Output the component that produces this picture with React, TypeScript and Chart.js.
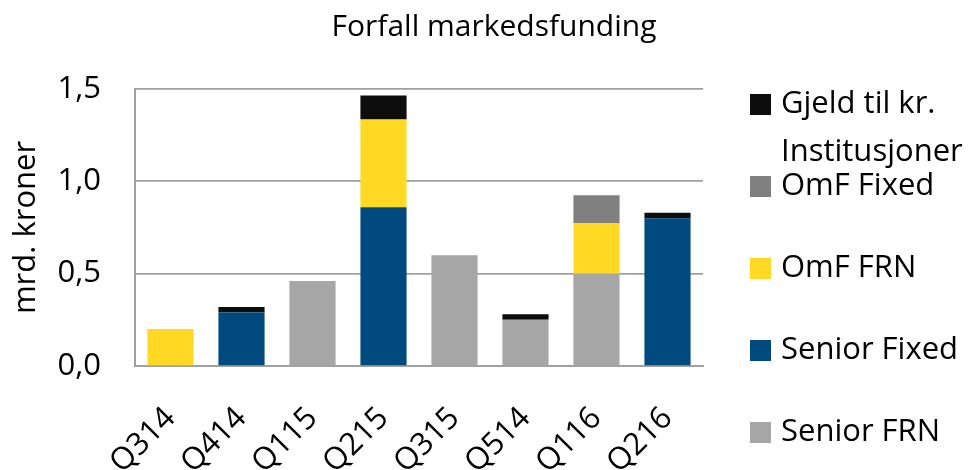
import React, { useEffect, useRef } from "react";
import { Chart, registerables } from "chart.js";

Chart.register(...registerables);

const categories = ["Q314", "Q414", "Q115", "Q215", "Q315", "Q514", "Q116", "Q216"];
const seniorFRN = [0, 0, 0.46, 0, 0.6, 0.25, 0.5, 0];
const seniorFixed = [0, 0.29, 0, 0.86, 0, 0, 0, 0.8];
const omfFRN = [0.2, 0, 0, 0.475, 0, 0, 0.275, 0];
const omfFixed = [0, 0, 0, 0, 0, 0, 0.15, 0];
const gjeld = [0, 0.03, 0, 0.13, 0, 0.03, 0, 0.03];
const yTicks = [0, 0.5, 1.0, 1.5];
const titleText = "Forfall markedsfunding";
const yTitle = "mrd. kroner";
const legendLabels: string[][] = [
  ["Gjeld til kr.", "Institusjoner"],
  ["OmF Fixed"],
  ["OmF FRN"],
  ["Senior Fixed"],
  ["Senior FRN"],
];

const FONT = "'Open Sans', 'Noto Sans', sans-serif";

const customPlugin = {
  id: "custom",
  afterDraw(chart: any) {
    const ctx = chart.ctx;
    const area = chart.chartArea;
    ctx.save();
    // title
    ctx.fillStyle = "#000";
    ctx.font = `30px ${FONT}`;
    ctx.textAlign = "center";
    ctx.textBaseline = "middle";
    ctx.fillText(titleText, 494, 27);
    // legend (reversed dataset order)
    const ds = chart.data.datasets.slice().reverse();
    const boxX = area.right + 47;
    let y = area.top + 15;
    ctx.font = `31px ${FONT}`;
    ctx.textAlign = "left";
    ds.forEach((d: any, i: number) => {
      ctx.fillStyle = d.backgroundColor;
      ctx.fillRect(boxX, y - 10, 21, 21);
      ctx.fillStyle = "#000";
      const lines = legendLabels[i];
      lines.forEach((ln, j) => {
        ctx.fillText(ln, boxX + 31, y + j * 48);
      });
      y += 82;
    });
    ctx.restore();
  },
};

export default function App() {
  const ref = useRef<HTMLCanvasElement>(null);
  useEffect(() => {
    document.body.style.margin = "0";
    const chart = new Chart(ref.current!, {
      type: "bar",
      data: {
        labels: categories,
        datasets: [
          { label: "Senior FRN", data: seniorFRN, backgroundColor: "#A6A6A6" },
          { label: "Senior Fixed", data: seniorFixed, backgroundColor: "#004A80" },
          { label: "OmF FRN", data: omfFRN, backgroundColor: "#FFD923" },
          { label: "OmF Fixed", data: omfFixed, backgroundColor: "#808080" },
          { label: "Gjeld til kr. Institusjoner", data: gjeld, backgroundColor: "#0D0D0D" },
        ],
      },
      options: {
        animation: false,
        responsive: false,
        layout: { padding: { top: 89, right: 272, left: 0, bottom: 0 } },
        plugins: { legend: { display: false }, title: { display: false }, tooltip: { enabled: false } },
        datasets: { bar: { categoryPercentage: 1, barPercentage: 0.65 } },
        scales: {
          x: {
            stacked: true,
            grid: { display: false, drawTicks: false },
            border: { display: true, color: "#A0A0A0", width: 2 },
            ticks: {
              autoSkip: false,
              maxRotation: 45,
              minRotation: 45,
              padding: 34,
              color: "#000",
              font: { family: FONT, size: 31 },
            },
            afterFit(s: any) {
              s.height = 104;
            },
          },
          y: {
            stacked: true,
            min: 0,
            max: 1.5,
            afterBuildTicks(s: any) {
              s.ticks = yTicks.map((v) => ({ value: v }));
            },
            grid: { color: "#A0A0A0", lineWidth: 1.7, drawTicks: false },
            border: { display: true, color: "#A0A0A0", width: 2 },
            ticks: {
              padding: 34,
              color: "#000",
              font: { family: FONT, size: 31 },
              callback: (v: any) => Number(v).toFixed(1).replace(".", ","),
            },
            title: {
              display: true,
              text: yTitle,
              color: "#000",
              font: { family: FONT, size: 31 },
              padding: { top: 8, bottom: 0 },
            },
            afterFit(s: any) {
              s.width = 135;
            },
          },
        },
      },
      plugins: [customPlugin],
    });
    return () => chart.destroy();
  }, []);
  return <canvas ref={ref} width={975} height={470} style={{ display: "block" }} />;
}
